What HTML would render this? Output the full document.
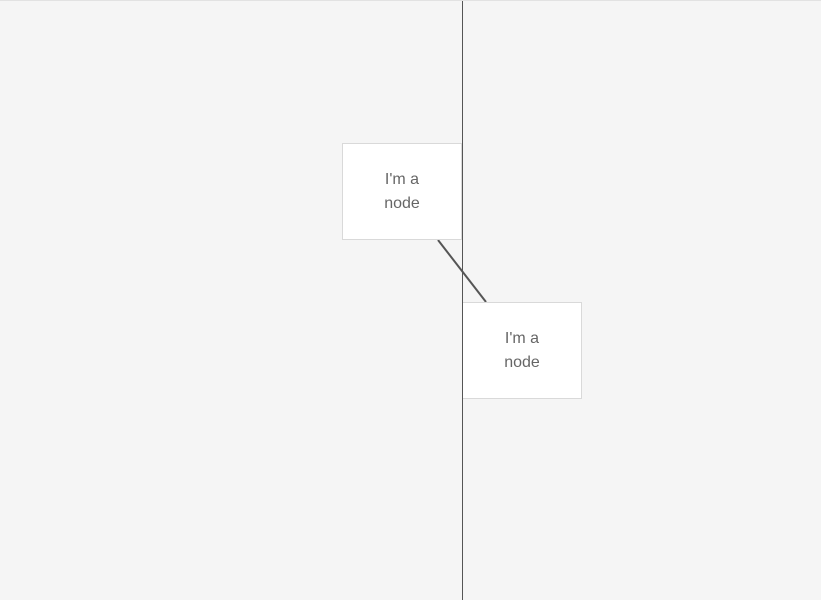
<!DOCTYPE html>
<html><head><style>
html,body{margin:0;padding:0;width:821px;height:600px;overflow:hidden;background:#f5f5f5;}
.top{position:absolute;left:0;top:0;width:821px;height:1px;background:#e2e2e2;}
.vl{position:absolute;left:462px;top:1px;width:1px;height:599px;background:#555;z-index:5;}
.node{position:absolute;width:118px;height:95px;background:#fff;border:1px solid #d9d9d9;display:flex;align-items:center;justify-content:center;text-align:center;font-family:"Liberation Sans",sans-serif;font-size:16px;line-height:24px;color:#666;padding-top:1px;box-sizing:content-box;}
</style></head><body>
<div class="top"></div>
<div class="vl"></div>
<svg style="position:absolute;left:0;top:0" width="821" height="600"><line x1="438" y1="240" x2="486" y2="302" stroke="#555" stroke-width="2"/></svg>
<div class="node" style="left:342px;top:143px;height:94px;">I'm a<br>node</div>
<div class="node" style="left:462px;top:302px;height:94px;">I'm a<br>node</div>
</body></html>
